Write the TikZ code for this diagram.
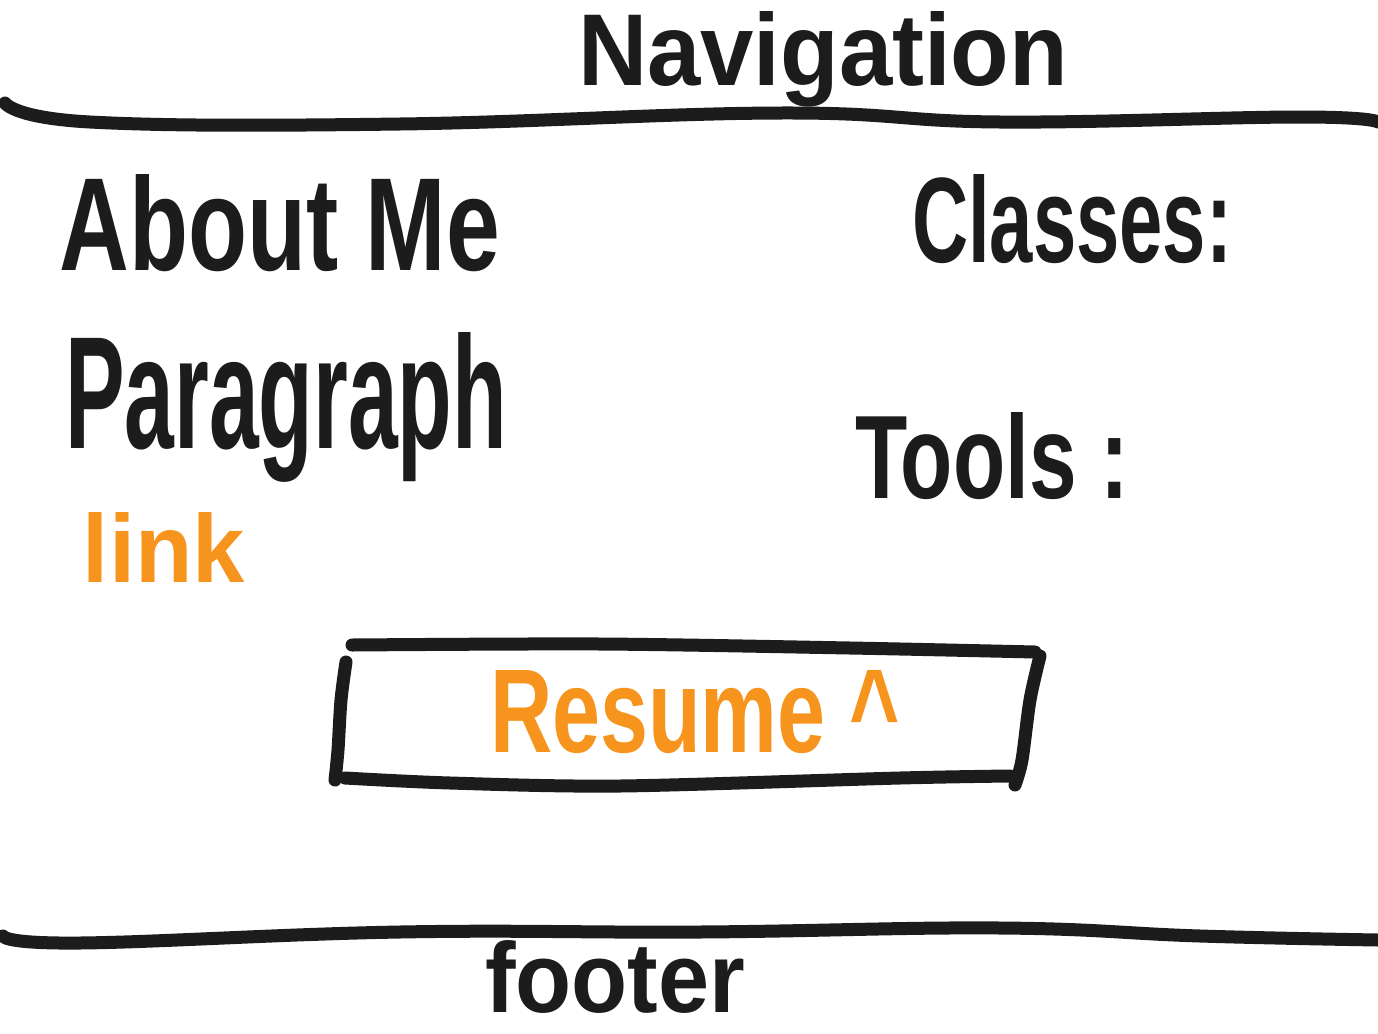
\documentclass[tikz,border=0pt]{standalone}
\usepackage{fontspec}
\setmainfont{Liberation Sans}
\definecolor{ink}{HTML}{1C1C1C}
\definecolor{accent}{HTML}{F7941D}
\begin{document}
\begin{tikzpicture}[x=0.5pt,y=-0.5pt,
  pen/.style={draw=ink,line width=6.5pt,line cap=round,line join=round},
  word/.style={anchor=base west,inner sep=0pt,outer sep=0pt,text=ink,font=\bfseries},
  linkword/.style={word,text=accent}]
\useasboundingbox (0,0) rectangle (1378,1034);
\fill[white] (0,0) rectangle (1378,1034);

% header and footer dividers
\draw[pen] plot[smooth,tension=0.7] coordinates {(5,103) (90,122) (400,124) (780,113) (1000,122) (1300,117) (1378,122)};
\draw[pen] plot[smooth,tension=0.7] coordinates {(3,936) (80,943) (400,932) (700,932) (1000,928) (1200,936) (1378,940)};

% resume button outline
\draw[pen] plot[smooth,tension=0.5] coordinates {(352,645) (600,644) (850,648) (1035,652)};
\draw[pen] plot[smooth,tension=0.5] coordinates {(1040,656) (1030,700) (1022,760) (1015,785)};
\draw[pen] plot[smooth,tension=0.5] coordinates {(1010,776) (900,778) (620,786) (450,783) (345,778)};
\draw[pen] plot[smooth,tension=0.5] coordinates {(346,662) (341,700) (338,750) (335,780)};

% page texts
\node[word] (nav) at (578,85) {\resizebox{245pt}{37pt}{Navigation}};
\node[word] (about) at (60,270) {\resizebox{220pt}{48pt}{About Me}};
\node[word] (classes) at (912,262) {\resizebox{160pt}{44pt}{Classes:}};
\node[word] (para) at (65,448) {\resizebox{221pt}{58pt}{Paragraph}};
\node[word] (tools) at (855,498) {\resizebox{137pt}{43pt}{Tools :}};
\node[linkword] (link) at (83,582) {\resizebox{81pt}{35pt}{link}};
\node[linkword] (resume) at (490,752) {\resizebox{205pt}{41pt}{Resume \^{}}};
\node[word] (footer) at (485,1012) {\resizebox{130pt}{36pt}{footer}};
\end{tikzpicture}
\end{document}
